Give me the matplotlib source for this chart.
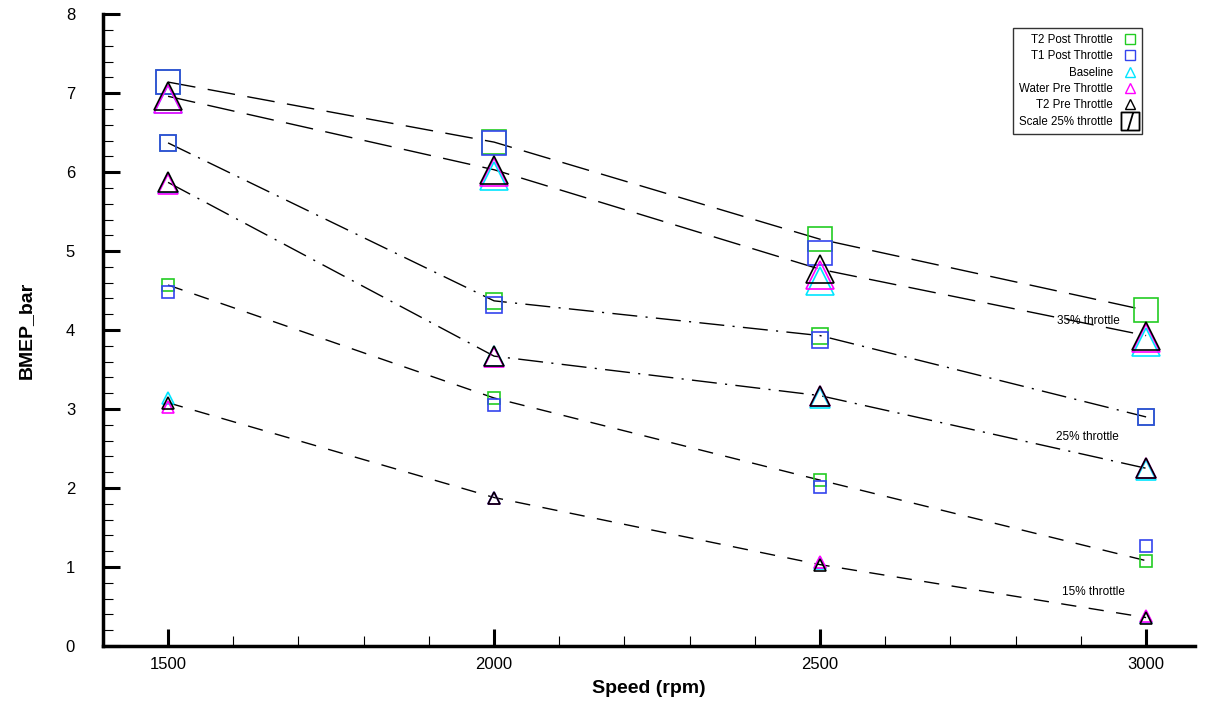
import numpy as np
import matplotlib.pyplot as plt
from matplotlib.path import Path
from matplotlib.lines import Line2D
from matplotlib.ticker import MultipleLocator

plt.rcParams['font.family'] = ['Liberation Sans', 'DejaVu Sans']

speed = [1500, 2000, 2500, 3000]

# BMEP (bar) per series, per throttle setting
t2_post = {15: [4.57, 3.14, 2.10, 1.08], 25: [6.37, 4.37, 3.93, 2.90], 35: [7.14, 6.38, 5.15, 4.25]}
t1_post = {15: [4.48, 3.05, 2.01, 1.26], 25: [6.37, 4.32, 3.88, 2.90], 35: [7.14, 6.37, 4.98, np.nan]}
baseline = {15: [3.14, 1.88, 1.05, 0.37], 25: [5.86, 3.67, 3.14, 2.23], 35: [6.92, 5.95, 4.62, 3.85]}
water_pre = {15: [3.03, 1.87, 1.06, 0.38], 25: [5.85, 3.66, 3.16, 2.25], 35: [6.93, 6.00, 4.70, 3.90]}
t2_pre = {15: [3.08, 1.88, 1.03, 0.36], 25: [5.87, 3.67, 3.17, 2.25], 35: [6.96, 6.03, 4.77, 3.93]}

throttle_labels = {35: (2911, 4.11), 25: (2910, 2.64), 15: (2920, 0.68)}

series = [
    ('T2 Post Throttle', t2_post, 's', '#22cc22'),
    ('T1 Post Throttle', t1_post, 's', '#3344ee'),
    ('Baseline', baseline, '^', '#00e5ff'),
    ('Water Pre Throttle', water_pre, '^', '#ff00ff'),
    ('T2 Pre Throttle', t2_pre, '^', 'black'),
]
sizes = {15: 8, 25: 12, 35: 17}
line_styles = {15: (0, (11, 9)), 25: (0, (18, 6, 1.5, 6)), 35: (0, (20, 9))}

fig = plt.figure(figsize=(12.1, 7.08), dpi=100)
ax = fig.add_axes([0.085, 0.0876, 0.9026, 0.8924])

# connecting lines through T2 post and T2 pre
for thr in [15, 25, 35]:
    for d in (t2_post, t2_pre):
        ax.plot(speed, d[thr], color='black', linewidth=1.0, linestyle=line_styles[thr], zorder=1)

for name, d, mk, col in series:
    for thr in [15, 25, 35]:
        ms = sizes[thr] if mk == 's' else sizes[thr] * 1.15
        ax.plot(speed, d[thr], linestyle='none', marker=mk, markersize=ms,
                markerfacecolor='none', markeredgecolor=col, markeredgewidth=1.2, zorder=3)

for thr, (x, y) in throttle_labels.items():
    ax.text(x, y, '%d%% throttle' % thr, fontsize=8.5, ha='center', va='center', zorder=2)

# legend
slash_square = Path([(-1, -1), (1, -1), (1, 1), (-1, 1), (-1, -1), (-0.3, -1), (0.3, 1)],
                    [Path.MOVETO, Path.LINETO, Path.LINETO, Path.LINETO, Path.CLOSEPOLY,
                     Path.MOVETO, Path.LINETO])
handles = [Line2D([], [], linestyle='none', marker=mk, markersize=7, markerfacecolor='none',
                  markeredgecolor=col, markeredgewidth=1.0) for name, d, mk, col in series]
handles.append(Line2D([], [], linestyle='none', marker=slash_square, markersize=13,
                      markerfacecolor='none', markeredgecolor='black', markeredgewidth=1.3))
labels = [s[0] for s in series] + ['Scale 25% throttle']
leg = ax.legend(handles, labels, loc='upper right', bbox_to_anchor=(0.957, 0.988),
                markerfirst=False, fontsize=8.3, frameon=True, fancybox=False,
                handlelength=1.0, handletextpad=1.0, labelspacing=0.38, borderpad=0.55)
leg.get_frame().set_edgecolor('black')
leg.get_frame().set_linewidth(1.0)

ax.set_xlim(1400, 3075)
ax.set_ylim(0, 8)
ax.xaxis.set_major_locator(MultipleLocator(500))
ax.xaxis.set_minor_locator(MultipleLocator(100))
ax.yaxis.set_major_locator(MultipleLocator(1))
ax.yaxis.set_minor_locator(MultipleLocator(0.2))
ax.tick_params(which='major', direction='in', length=12, width=2.2, labelsize=12)
ax.tick_params(which='minor', direction='in', length=7, width=0.8)
ax.tick_params(axis='x', pad=8)
ax.tick_params(axis='y', pad=20)
ax.spines['top'].set_visible(False)
ax.spines['right'].set_visible(False)
ax.spines['left'].set_linewidth(2.5)
ax.spines['bottom'].set_linewidth(2.5)

ax.set_xlabel('Speed (rpm)', fontsize=14, fontweight='bold', labelpad=6)
ax.set_ylabel('BMEP_bar', fontsize=14, fontweight='bold', labelpad=22)

plt.savefig('out.png', dpi=100)
